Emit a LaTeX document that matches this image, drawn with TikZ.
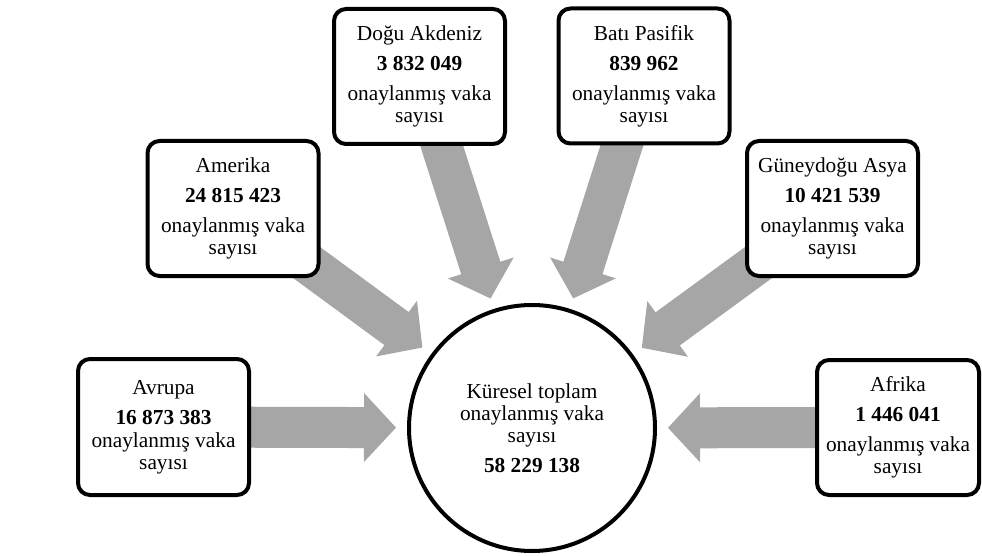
\documentclass[tikz,border=0pt]{standalone}
\usepackage{fontspec}
\setmainfont{Liberation Serif}
\usetikzlibrary{calc}
\pgfdeclarelayer{back}
\pgfsetlayers{back,main}
\definecolor{flowgrey}{HTML}{A6A6A6}
\tikzset{
  region/.style={draw=black, line width=3pt, rounded corners=9pt, fill=white,
    minimum width=128.25pt, minimum height=101.25pt, inner sep=0pt, align=center,
    font=\fontsize{16}{16.5}\selectfont},
  hubnode/.style={circle, draw=black, line width=3pt, fill=white,
    minimum size=184.5pt, inner sep=0pt, align=center,
    font=\fontsize{16}{16.5}\selectfont},
  flow/.style={fill=flowgrey}
}
% half shaft width, half head width, head length, tip distance from hub centre
\newcommand\shaft{15.375pt}
\newcommand\barb{25.875pt}
\newcommand\headlen{24pt}
\newcommand\tipdist{102pt}
\begin{document}
\begin{tikzpicture}[x=0.75pt, y=-0.75pt]
  \useasboundingbox (0,0) rectangle (982,556);

  % central total
  \node[hubnode] (hub) at (532,428)
    {Küresel toplam\\onaylanmış vaka\\sayısı\\[6pt]\textbf{58 229 138}};

  % WHO regions
  \node[region, minimum height=102pt] (avrupa) at (163.5,427)
    {Avrupa\\[6pt]\textbf{16 873 383}\\[0.75pt]onaylanmış vaka\\sayısı};
  \node[region] (amerika) at (233,208.5)
    {Amerika\\[6pt]\textbf{24 815 423}\\[6pt]onaylanmış vaka\\sayısı};
  \node[region] (dogu) at (419.5,76.5)
    {Doğu Akdeniz\\[6pt]\textbf{3 832 049}\\[6pt]onaylanmış vaka\\sayısı};
  \node[region] (bati) at (644,76)
    {Batı Pasifik\\[6pt]\textbf{839 962}\\[6pt]onaylanmış vaka\\sayısı};
  \node[region] (guney) at (832.5,208.5)
    {Güneydoğu Asya\\[6pt]\textbf{10 421 539}\\[6pt]onaylanmış vaka\\sayısı};
  \node[region, minimum width=121.5pt] (afrika) at (898,427.5)
    {Afrika\\[6pt]\textbf{1 446 041}\\[6pt]onaylanmış vaka\\sayısı};

  % converging block arrows, behind the boxes
  \begin{pgfonlayer}{back}
    \foreach \src in {avrupa,amerika,dogu,bati,guney,afrika} {
      \coordinate (tip-\src) at ($(hub.center)!\tipdist!(\src.center)$);
      \coordinate (base-\src) at ($(tip-\src)!\headlen!(\src.center)$);
      \path[flow]
        ($(\src.center)!\shaft!90:(tip-\src)$)
        -- ($(base-\src)!\shaft!-90:(\src.center)$)
        -- ($(base-\src)!\barb!-90:(\src.center)$)
        -- (tip-\src)
        -- ($(base-\src)!\barb!90:(\src.center)$)
        -- ($(base-\src)!\shaft!90:(\src.center)$)
        -- ($(\src.center)!\shaft!-90:(tip-\src)$)
        -- cycle;
    }
  \end{pgfonlayer}
\end{tikzpicture}
\end{document}
